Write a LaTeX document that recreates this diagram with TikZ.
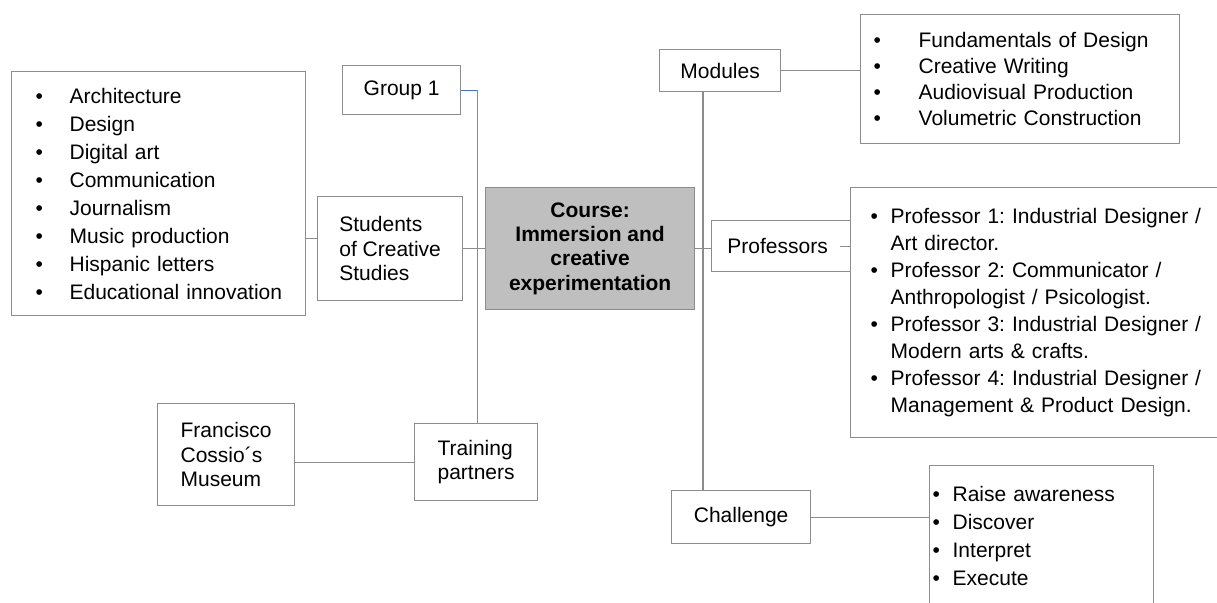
\documentclass[tikz,border=0pt]{standalone}
\usepackage{fontspec}
\setmainfont{Liberation Sans}
\frenchspacing
\usetikzlibrary{positioning}
\definecolor{mgray}{rgb}{0.55, 0.55, 0.55}
\definecolor{mfill}{rgb}{0.75, 0.75, 0.75}
\definecolor{mblue}{rgb}{0.27, 0.45, 0.77}
\tikzset{box/.style = {draw=mgray, line width=1.3pt, fill=white, inner sep=0,
                       anchor=north west, font=\fontsize{21}{24.5}\selectfont}}
\tikzset{listbox/.style = {box, align=left}}
\tikzset{link/.style = {draw=mgray, line width=1.3pt}}
\newcommand{\bul}[2]{\hspace*{#1pt}\makebox[#2pt][l]{\textbullet}}

\begin{document}
\begin{tikzpicture}[x=1pt, y=-1pt]
      \useasboundingbox (0, 0) rectangle (1217, 602);

      \node [box, minimum width=118, minimum height=49] (group) at (342, 65) {Group 1};
      \node [box, align=left, minimum width=145, minimum height=104] (students) at (317, 196)
            {Students\\of Creative\\Studies};
      \node [box, fill=mfill, align=center, minimum width=209, minimum height=122,
             font=\fontsize{21}{24.3}\selectfont\bfseries] (course) at (485, 187)
            {Course:\\Immersion and\\creative\\experimentation};
      \node [listbox, text width=294, minimum height=244,
             font=\fontsize{21}{28}\selectfont] (fields) at (11, 71)
            {\bul{24}{34}Architecture\\
             \bul{24}{34}Design\\
             \bul{24}{34}Digital art\\
             \bul{24}{34}Communication\\
             \bul{24}{34}Journalism\\
             \bul{24}{34}Music production\\
             \bul{24}{34}Hispanic letters\\
             \bul{24}{34}Educational innovation};

      \node [box, minimum width=121, minimum height=42] (modules) at (659, 49) {Modules};
      \node [listbox, text width=319, minimum height=129,
             font=\fontsize{21}{26}\selectfont] (modlist) at (860, 14)
            {\bul{13}{45}Fundamentals of Design\\
             \bul{13}{45}Creative Writing\\
             \bul{13}{45}Audiovisual Production\\
             \bul{13}{45}Volumetric Construction};
      \node [box, minimum width=139, minimum height=51] (profs) at (711, 220)
            {\hspace*{-2pt}Professors\hspace*{5pt}};
      \node [listbox, text width=380, minimum height=250,
             font=\fontsize{21}{27}\selectfont] (proflist) at (850, 187)
            {\bul{20}{20}Professor 1: Industrial Designer /\\
             \hspace*{40pt}Art director.\\
             \bul{20}{20}Professor 2: Communicator /\\
             \hspace*{40pt}Anthropologist / Psicologist.\\
             \bul{20}{20}Professor 3: Industrial Designer /\\
             \hspace*{40pt}Modern arts \& crafts.\\
             \bul{20}{20}Professor 4: Industrial Designer /\\
             \hspace*{40pt}Management \& Product Design.};
      \node [box, minimum width=139, minimum height=53] (challenge) at (671, 490) {Challenge};
      \node [listbox, text width=224, minimum height=140,
             font=\fontsize{21}{28}\selectfont] (challist) at (929, 465)
            {\bul{3}{20}Raise awareness\\
             \bul{3}{20}Discover\\
             \bul{3}{20}Interpret\\
             \bul{3}{20}Execute};

      \node [box, align=left, minimum width=123, minimum height=77] (training) at (414, 423)
            {Training\\partners};
      \node [box, align=left, minimum width=137, minimum height=102] (museum) at (157, 403)
            {Francisco\\Cossio´s\\Museum};

      \draw [mblue, line width=1.3pt] (group.east) -- ++(16, 0) coordinate (g1);
      \draw [link] (g1) -- (g1 |- training.north);
      \draw [link] ([yshift=10pt]students.west) -- ([yshift=10pt]students.west -| fields.east);
      \draw [link] (students.east) -- (students.east -| course.west);
      \draw [link] (training.west) -- (training.west -| museum.east);

      \draw [link] ([xshift=44pt]modules.south west) -- ([xshift=44pt]modules.south west |- challenge.north);
      \draw [link] (modules.east) -- (modules.east -| modlist.west);
      \draw [link] (course.east) -- (course.east -| profs.west);
      \draw [link] ([xshift=-11pt]profs.east) -- (profs.east);
      \draw [link] (challenge.east) -- (challenge.east -| challist.west);
    \end{tikzpicture}
\end{document}
